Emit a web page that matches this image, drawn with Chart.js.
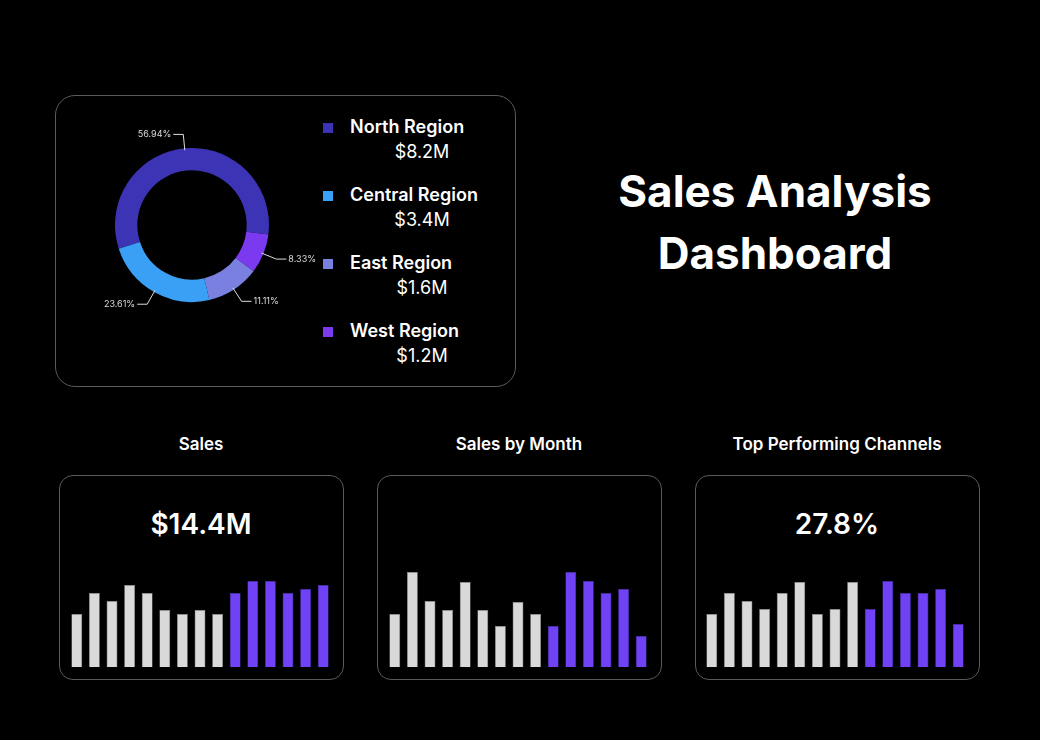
<!DOCTYPE html>
<html><head><meta charset="utf-8">
<script src="https://cdn.jsdelivr.net/npm/chart.js@4"></script>
<style>
body{margin:0;background:#000;width:1040px;height:740px;position:relative;overflow:hidden;font-family:Inter,"Noto Sans",sans-serif;color:#fff}
.panel{position:absolute;border:1.5px solid #5a5a5a;box-sizing:border-box}
.abs{position:absolute}
.lg{position:absolute;font-size:18px;font-weight:600}
.lv{position:absolute;font-size:18px;width:120px;text-align:center}
.sq{position:absolute;width:10px;height:10px}
.ttl{position:absolute;font-size:17px;font-weight:600;width:300px;text-align:center}
.big{position:absolute;font-size:28px;font-weight:600;width:284px;text-align:center}
</style></head><body>
<div class="panel" style="left:55px;top:95px;width:461px;height:292px;border-radius:20px"></div>
<div class="panel" style="left:59px;top:475px;width:285px;height:205px;border-radius:14px"></div>
<div class="panel" style="left:377px;top:475px;width:285px;height:205px;border-radius:14px"></div>
<div class="panel" style="left:695px;top:475px;width:285px;height:205px;border-radius:14px"></div>
<div class="abs" style="left:560px;top:160px;width:430px;text-align:center;font-size:44px;font-weight:700;line-height:62px">Sales Analysis<br>Dashboard</div>
<div id="legend"></div>
<div class="ttl" style="left:51px;top:434px">Sales</div>
<div class="ttl" style="left:369px;top:434px">Sales by Month</div>
<div class="ttl" style="left:687px;top:434px">Top Performing Channels</div>
<div class="big" style="left:59px;top:507px">$14.4M</div>
<div class="big" style="left:695px;top:507px">27.8%</div>
<canvas id="donut" class="abs" style="left:62px;top:95px;width:260px;height:260px"></canvas>
<canvas id="b1" class="abs" style="left:68px;top:567px;width:264px;height:100px"></canvas>
<canvas id="b2" class="abs" style="left:386px;top:567px;width:264px;height:100px"></canvas>
<canvas id="b3" class="abs" style="left:703px;top:567px;width:264px;height:100px"></canvas>
<script>
const regions=["North Region","Central Region","East Region","West Region"];
const regionValues=["$8.2M","$3.4M","$1.6M","$1.2M"];
const regionColors=["#3c33b5","#3aa0f5","#7a80e0","#7b3af0"];
// donut order (clockwise)
const donutLabels=["North Region","West Region","East Region","Central Region"];
const donutShares=[56.94,8.33,11.11,23.61];
const donutColors=["#3c33b5","#7b3af0","#7a80e0","#3aa0f5"];
const months=["1","2","3","4","5","6","7","8","9","10","11","12","13","14","15"];
const sales=[53,74,66,82,74,57,53,57,53,74,86,86,74,78,82];
const salesByMonth=[53,95,66,57,85,57,41,65,53,41,95,86,74,78,31];
const channels=[53,74,66,58,74,85,53,58,85,58,86,74,74,78,43];
const highlightFrom=9;

const lg=document.getElementById('legend');
regions.forEach((r,i)=>{
  const y=118+i*68;
  lg.insertAdjacentHTML('beforeend',`<div class="sq" style="left:323px;top:${y+5}px;background:${regionColors[i]}"></div>
  <div class="lg" style="left:350px;top:${y-2}px">${r}</div>
  <div class="lv" style="left:362px;top:${y+23}px">${regionValues[i]}</div>`);
});

const labelPlugin={id:'lbl',afterDatasetsDraw(c){
  const ctx=c.ctx;const meta=c.getDatasetMeta(0);
  ctx.save();ctx.strokeStyle='#ddd';ctx.fillStyle='#ddd';ctx.lineWidth=1;ctx.font='9px Inter, sans-serif';
  meta.data.forEach((a,i)=>{
    const m=(a.startAngle+a.endAngle)/2;const r=a.outerRadius;
    const x1=a.x+Math.cos(m)*(r-2),y1=a.y+Math.sin(m)*(r-2);
    const x2=a.x+Math.cos(m)*(r+14),y2=a.y+Math.sin(m)*(r+14);
    const right=Math.cos(m)>0;const x3=x2+(right?10:-10);
    ctx.beginPath();ctx.moveTo(x1,y1);ctx.lineTo(x2,y2);ctx.lineTo(x3,y2);ctx.stroke();
    ctx.textAlign=right?'left':'right';ctx.textBaseline='middle';
    ctx.fillText(donutShares[i].toFixed(2)+'%',x3+(right?2:-2),y2);
  });ctx.restore();}};

new Chart(document.getElementById('donut'),{type:'doughnut',
  data:{labels:donutLabels,datasets:[{data:donutShares,backgroundColor:donutColors,borderWidth:0}]},
  options:{responsive:false,animation:false,rotation:-108,cutout:'71%',layout:{padding:53},
    plugins:{legend:{display:false},tooltip:{enabled:false}}},plugins:[labelPlugin]});

function bars(id,vals){
  new Chart(document.getElementById(id),{type:'bar',
    data:{labels:months,datasets:[{data:vals,
      backgroundColor:vals.map((v,i)=>i<highlightFrom?'#d9d9d9':'#6f42f5'),
      borderColor:vals.map((v,i)=>i<highlightFrom?'#8a8a8a':'#4a2db0'),borderWidth:0.6,
      barPercentage:0.62,categoryPercentage:1}]},
    options:{responsive:false,animation:false,layout:{padding:0},
      scales:{x:{display:false},y:{display:false,min:0,max:100}},
      plugins:{legend:{display:false},tooltip:{enabled:false}}}});
}
bars('b1',sales);bars('b2',salesByMonth);bars('b3',channels);
</script></body></html>
